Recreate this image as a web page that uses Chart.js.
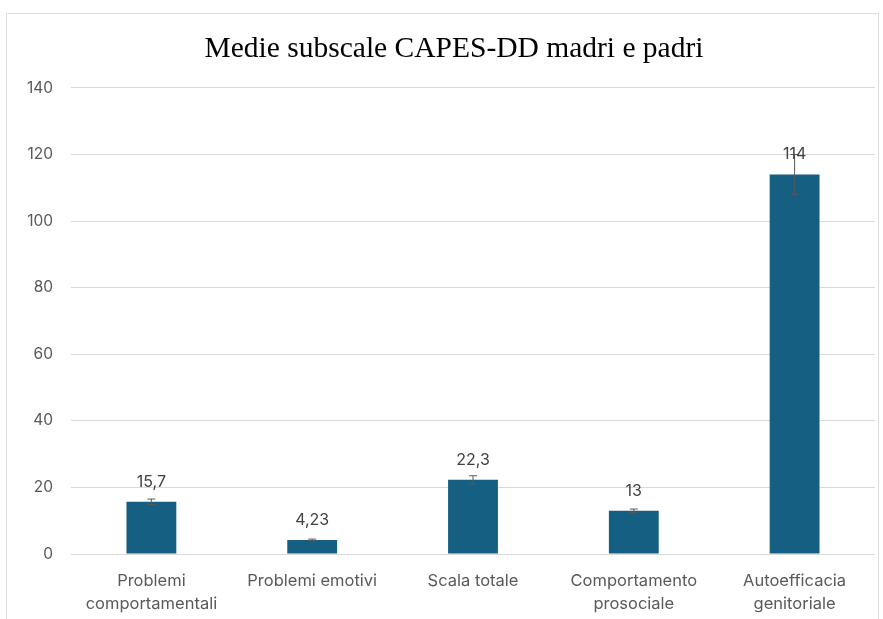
<!DOCTYPE html>
<html>
<head>
<meta charset="utf-8">
<script src="https://cdn.jsdelivr.net/npm/chart.js@4.4.1/dist/chart.umd.min.js"></script>
<style>
  html, body { margin: 0; padding: 0; background: #fff; }
  #frame {
    position: absolute; left: 6px; top: 13px; width: 873px; height: 620px;
    border: 1px solid #dedede; box-sizing: border-box;
  }
  #wrap { position: absolute; left: 0; top: 0; width: 883px; height: 619px; }
</style>
</head>
<body>
<div id="frame"></div>
<div id="wrap"><canvas id="chart" width="883" height="619"></canvas></div>
<script>
// data
const categories = [
  ["Problemi", "comportamentali"],
  "Problemi emotivi",
  "Scala totale",
  ["Comportamento", "prosociale"],
  ["Autoefficacia", "genitoriale"],
];
const means = [15.7, 4.23, 22.3, 13, 114];
const errors = [0.8, 0.25, 1.2, 0.5, 6];
const yTicks = [0, 20, 40, 60, 80, 100, 120, 140];
const titleText = "Medie subscale CAPES-DD madri e padri";

const BAR_COLOR = "#156082";
const TEXT_GRAY = "#595959";
const SANS = "Inter, 'Liberation Sans', Arial, sans-serif";
const SERIF = "'Liberation Serif', 'Times New Roman', serif";

function formatIt(v) {
  return String(v).replace(".", ",");
}

// title drawn by hand: the reference title sits a bit right of centre
const offsetTitle = {
  id: "offsetTitle",
  afterDraw(chart) {
    const ctx = chart.ctx;
    ctx.save();
    ctx.fillStyle = "#000";
    ctx.font = "29.5px " + SERIF;
    ctx.textAlign = "center";
    ctx.textBaseline = "alphabetic";
    ctx.fillText(titleText, 454, 57);
    ctx.restore();
  },
};

// error bars + value labels
const barExtras = {
  id: "barExtras",
  afterDatasetsDraw(chart) {
    const ctx = chart.ctx;
    const yScale = chart.scales.y;
    const meta = chart.getDatasetMeta(0);
    ctx.save();
    meta.data.forEach((bar, i) => {
      const x = bar.x;
      const top = yScale.getPixelForValue(means[i] + errors[i]);
      const bottom = yScale.getPixelForValue(means[i] - errors[i]);
      ctx.strokeStyle = "#595959";
      ctx.lineWidth = 1;
      ctx.beginPath();
      ctx.moveTo(x, top);
      ctx.lineTo(x, bottom);
      ctx.moveTo(x - 4, top);
      ctx.lineTo(x + 4, top);
      ctx.moveTo(x - 4, bottom);
      ctx.lineTo(x + 4, bottom);
      ctx.stroke();

      ctx.fillStyle = "#404040";
      ctx.font = "16px " + SANS;
      ctx.textAlign = "center";
      ctx.textBaseline = "middle";
      ctx.fillText(formatIt(means[i]), x, bar.y - 20);
    });
    ctx.restore();
  },
};

new Chart(document.getElementById("chart"), {
  type: "bar",
  data: {
    labels: categories,
    datasets: [
      {
        data: means,
        backgroundColor: BAR_COLOR,
        barPercentage: 0.31,
        categoryPercentage: 1,
      },
    ],
  },
  options: {
    responsive: false,
    animation: false,
    layout: { padding: { left: 0, right: 8, top: 0, bottom: 0 } },
    plugins: {
      legend: { display: false },
      tooltip: { enabled: false },
      title: {
        // keeps the space; the visible text comes from offsetTitle
        display: true,
        text: titleText,
        color: "rgba(0,0,0,0)",
        font: { family: SERIF, size: 29.5, weight: "normal" },
        padding: { top: 33, bottom: 19.5 },
      },
    },
    scales: {
      x: {
        grid: { display: false, drawTicks: false },
        border: { display: false },
        ticks: {
          color: TEXT_GRAY,
          font: { family: SANS, size: 16.5, lineHeight: 1.4 },
          padding: 15,
          maxRotation: 0,
          autoSkip: false,
        },
        afterFit(scale) { scale.height = 65; },
      },
      y: {
        min: 0,
        max: 140,
        afterBuildTicks(scale) {
          scale.ticks = yTicks.map((v) => ({ value: v }));
        },
        grid: { color: "#d9d9d9", drawTicks: false },
        border: { display: false },
        ticks: {
          color: TEXT_GRAY,
          font: { family: SANS, size: 15.5 },
          padding: 18,
        },
        afterFit(scale) { scale.width = 71; },
      },
    },
  },
  plugins: [barExtras, offsetTitle],
});
</script>
</body>
</html>
